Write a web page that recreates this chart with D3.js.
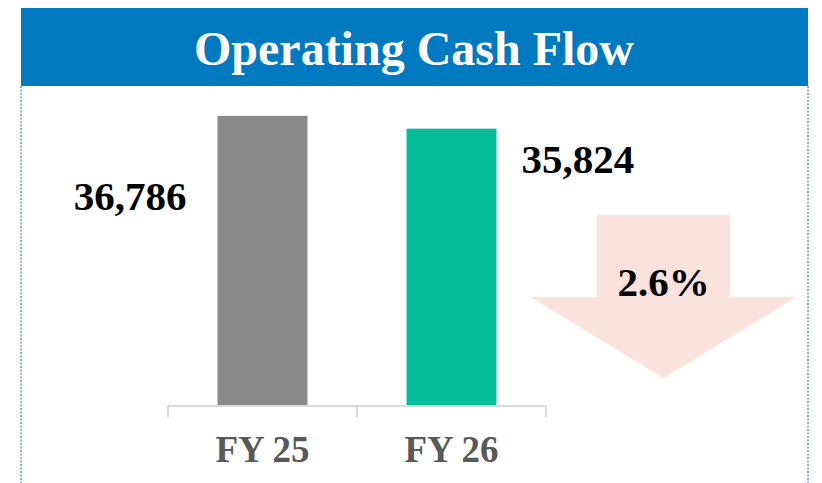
<!DOCTYPE html>
<html>
<head>
<meta charset="utf-8">
<script src="https://cdn.jsdelivr.net/npm/d3@7"></script>
<style>
  body { margin: 0; background: #fff; }
  svg { display: block; }
  text { font-family: "Liberation Serif", "Times New Roman", serif; font-weight: bold; }
</style>
</head>
<body>
<script>
// data
const title = 'Operating Cash Flow';
const categories = ['FY 25', 'FY 26'];
const values = [36786, 35824];
const barColors = ['#898989', '#05bf9c'];

const width = 822;
const height = 483;

const svg = d3.select('body').append('svg')
    .attr('width', width)
    .attr('height', height);

// title band + dotted frame
svg.append('rect')
    .attr('x', 21)
    .attr('y', 8)
    .attr('width', 787)
    .attr('height', 78)
    .attr('fill', '#0079c1');

svg.append('text')
    .attr('x', 414)
    .attr('y', 65)
    .attr('text-anchor', 'middle')
    .attr('fill', '#fff')
    .attr('font-size', 48)
    .text(title);

svg.selectAll('line.frame')
  .data([21, 808])
  .join('line')
    .attr('class', 'frame')
    .attr('x1', d => d).attr('x2', d => d)
    .attr('y1', 86).attr('y2', height)
    .attr('stroke', '#5b9bd5')
    .attr('stroke-width', 1.5)
    .attr('stroke-dasharray', '2,1.5');

// scales
const x = d3.scaleBand()
    .domain(categories)
    .range([168, 546])
    .paddingInner(0.524)
    .paddingOuter(0.262);

const y = d3.scaleLinear()
    .domain([15000, 37000])
    .range([406, 113]);

// bars
svg.selectAll('rect.bar')
  .data(values)
  .join('rect')
    .attr('class', 'bar')
    .attr('x', (d, i) => x(categories[i]))
    .attr('y', d => y(d))
    .attr('width', x.bandwidth())
    .attr('height', d => y.range()[0] - y(d))
    .attr('fill', (d, i) => barColors[i]);

// axis: baseline with ticks on band edges
const x0 = x.range()[0];
const tickXs = d3.range(categories.length + 1).map(i => x0 + i * x.step());
const axisY = y.range()[0];

svg.append('line')
    .attr('x1', tickXs[0]).attr('x2', tickXs[tickXs.length - 1])
    .attr('y1', axisY).attr('y2', axisY)
    .attr('stroke', '#d9d9d9')
    .attr('stroke-width', 2);

svg.selectAll('line.tick')
  .data(tickXs)
  .join('line')
    .attr('class', 'tick')
    .attr('x1', d => d).attr('x2', d => d)
    .attr('y1', axisY).attr('y2', axisY + 11)
    .attr('stroke', '#d9d9d9')
    .attr('stroke-width', 2);

svg.selectAll('text.cat')
  .data(categories)
  .join('text')
    .attr('class', 'cat')
    .attr('x', d => x(d) + x.bandwidth() / 2)
    .attr('y', 462)
    .attr('text-anchor', 'middle')
    .attr('fill', '#595959')
    .attr('font-size', 37)
    .text(d => d);

// value labels: first sits left of its bar, second right of its bar
const fmt = d3.format(',');
svg.selectAll('text.val')
  .data(values)
  .join('text')
    .attr('class', 'val')
    .attr('x', (d, i) => i === 0 ? x(categories[i]) - 31 : x(categories[i]) + x.bandwidth() + 25)
    .attr('y', (d, i) => y(d) + (i === 0 ? 94 : 44))
    .attr('text-anchor', (d, i) => i === 0 ? 'end' : 'start')
    .attr('fill', '#000')
    .attr('font-size', 41)
    .text(d => fmt(d));

// change arrow
const change = (values[1] - values[0]) / values[0];
const ax = 663.5;
const arrow = [
  [ax - 66.5, 215], [ax + 66.5, 215], [ax + 66.5, 297], [ax + 133, 297],
  [ax, 378], [ax - 133, 297], [ax - 66.5, 297]
];
svg.append('path')
    .attr('d', d3.line()(arrow) + 'Z')
    .attr('fill', '#fbe2dc');

svg.append('text')
    .attr('x', ax)
    .attr('y', 296)
    .attr('text-anchor', 'middle')
    .attr('fill', '#000')
    .attr('font-size', 41)
    .text(d3.format('.1%')(Math.abs(change)));
</script>
</body>
</html>
